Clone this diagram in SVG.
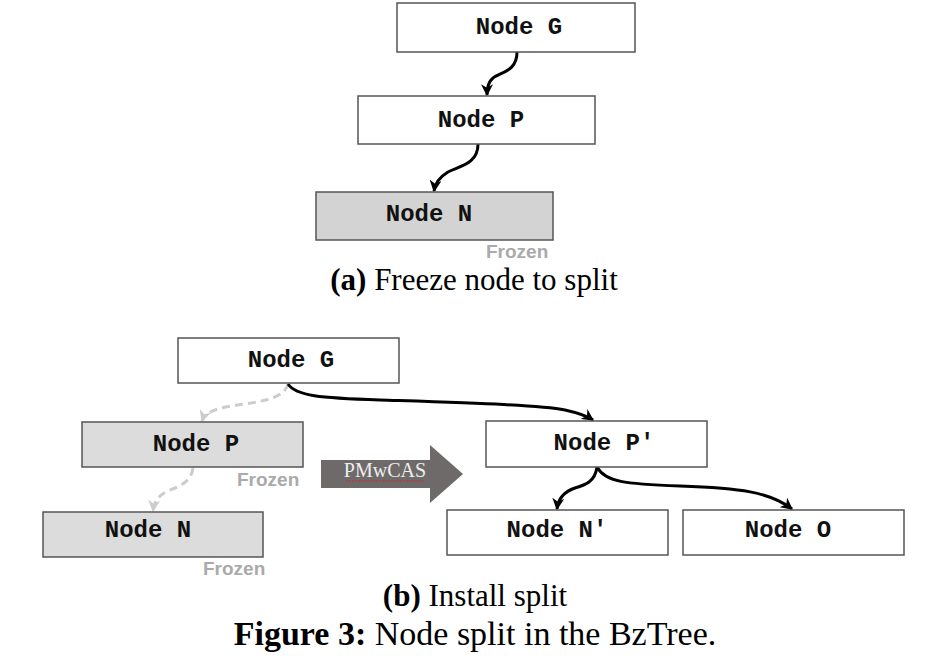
<svg xmlns="http://www.w3.org/2000/svg" width="947" height="670" viewBox="0 0 947 670">
<defs>
<style>
.box{fill:#fff;stroke:#555;stroke-width:1.5}
.frz{fill:#d3d3d3}
.frz2{fill:#dcdcdc}
.nt{font-family:"Liberation Mono","Courier New",monospace;font-weight:bold;font-size:24px;fill:#111;text-anchor:middle}
.fz{font-family:"Liberation Sans",Arial,sans-serif;font-weight:bold;font-size:19px;fill:#aaa}
.cap{font-family:"Liberation Serif","Times New Roman",serif;fill:#000;text-anchor:middle}
.e{fill:none;stroke:#000;stroke-width:3}
.d{fill:none;stroke:#ccc;stroke-width:3;stroke-dasharray:8 5}
</style>
<marker id="ah" viewBox="0 0 10 10" refX="9" refY="5" markerWidth="4" markerHeight="4" orient="auto" markerUnits="strokeWidth">
<path d="M0,0 L10,5 L0,10 L3,5 z" fill="#000"/>
</marker>
<marker id="ahg" viewBox="0 0 10 10" refX="9" refY="5" markerWidth="4" markerHeight="4" orient="auto" markerUnits="strokeWidth">
<path d="M0,0 L10,5 L0,10 L3,5 z" fill="#ccc"/>
</marker>
</defs>
<rect width="947" height="670" fill="#fff"/>

<g id="connectors">
<path class="e" marker-end="url(#ah)" d="M517,52 C517,72 500,72 493,78 C488,82 487,88 487,95"/>
<path class="e" marker-end="url(#ah)" d="M478,144 C478,164 460,166 448,172 C438,178 435,184 434,191"/>
<path class="d" marker-end="url(#ahg)" d="M288,384 C285,396 270,400 245,404 C215,408 205,412 202,421"/>
<path class="d" marker-end="url(#ahg)" d="M193,468 C191,482 180,486 170,490 C158,495 154,502 153,511"/>
<path class="e" marker-end="url(#ah)" d="M288,384 C296,396 320,398 380,400 C470,403 540,405 565,410 C583,414 590,418 593,420"/>
<path class="e" marker-end="url(#ah)" d="M597,467 C595,482 585,485 575,488 C563,492 558,500 557,509"/>
<path class="e" marker-end="url(#ah)" d="M597,467 C605,482 625,484 680,486 C740,488 770,492 792,509"/>
</g>

<g id="nodeG_a"><rect class="box" x="397" y="3" width="238" height="49"/><text class="nt" x="519" y="34">Node G</text></g>
<g id="nodeP_a"><rect class="box" x="358" y="96" width="237" height="48"/><text class="nt" x="481" y="127">Node P</text></g>
<g id="nodeN_a"><rect class="box frz" x="316" y="192" width="237" height="48"/><text class="nt" x="429" y="221">Node N</text><text class="fz" x="486" y="258">Frozen</text></g>
<text class="cap" x="474" y="290" font-size="31"><tspan font-weight="bold">(a)</tspan> Freeze node to split</text>

<g id="nodeG_b"><rect class="box" x="178" y="338" width="221" height="45"/><text class="nt" x="291" y="367">Node G</text></g>
<g id="nodeP_b"><rect class="box frz2" x="82" y="422" width="221" height="45"/><text class="nt" x="196" y="451">Node P</text><text class="fz" x="237" y="486">Frozen</text></g>
<g id="nodeN_b"><rect class="box frz2" x="43" y="512" width="220" height="45"/><text class="nt" x="148" y="537">Node N</text><text class="fz" x="203" y="575">Frozen</text></g>

<g id="pmwcas">
<path d="M321,460 L430,460 L430,445 L463,474 L430,503 L430,488 L321,488 z" fill="#6f6a6a"/>
<text x="385" y="477" font-family="Liberation Serif,'Times New Roman',serif" font-size="20" fill="#eee" text-anchor="middle">PMwCAS</text>
<path d="M346,481 L424,481" stroke="#c03030" stroke-width="1" stroke-dasharray="2 1"/>
</g>

<g id="nodeP2"><rect class="box" x="486" y="421" width="221" height="46"/><text class="nt" x="604" y="450">Node P′</text></g>
<g id="nodeN2"><rect class="box" x="447" y="510" width="221" height="45"/><text class="nt" x="557" y="537">Node N′</text></g>
<g id="nodeO"><rect class="box" x="683" y="510" width="221" height="45"/><text class="nt" x="788" y="537">Node O</text></g>

<text class="cap" x="475" y="606" font-size="31"><tspan font-weight="bold">(b)</tspan> Install split</text>
<text class="cap" x="475" y="645" font-size="34"><tspan font-weight="bold">Figure 3:</tspan> Node split in the BzTree.</text>
</svg>
